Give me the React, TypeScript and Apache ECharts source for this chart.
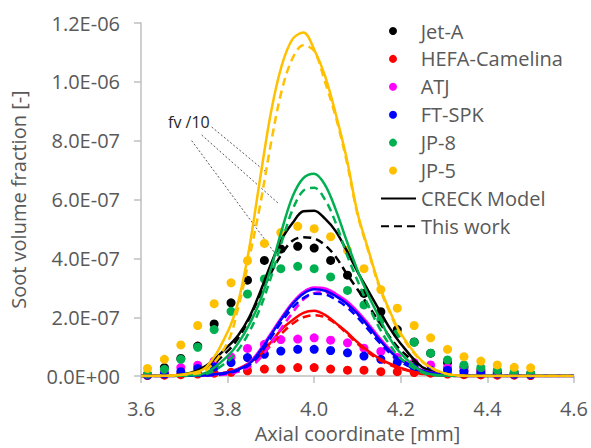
import React, { useEffect, useRef } from "react";
import * as echarts from "echarts";

// Measured points: axial coordinate [mm]
const xPts = [3.615, 3.654, 3.692, 3.731, 3.769, 3.808, 3.846, 3.885, 3.923, 3.962, 4.0, 4.038, 4.077, 4.115, 4.154, 4.192, 4.231, 4.269, 4.308, 4.346, 4.385, 4.423, 4.462, 4.5];
// Measured soot volume fraction (x 1e-7)
const jetA = [0.05, 0.29, 0.6, 1.02, 1.77, 2.49, 3.26, 3.93, 4.32, 4.41, 4.35, 3.93, 3.43, 2.81, 2.19, 1.58, 1.16, 0.78, 0.46, 0.3, 0.2, 0.15, 0.1, 0.08];
const hefa = [0.02, 0.03, 0.05, 0.07, 0.1, 0.13, 0.18, 0.24, 0.24, 0.29, 0.29, 0.24, 0.2, 0.2, 0.15, 0.15, 0.12, 0.1, 0.07, 0.05, 0.04, 0.03, 0.03, 0.02];
const atj = [0.05, 0.12, 0.29, 0.37, 0.51, 0.65, 0.94, 1.08, 1.24, 1.26, 1.3, 1.22, 1.13, 0.95, 0.84, 0.63, 0.46, 0.38, 0.29, 0.2, 0.15, 0.1, 0.08, 0.06];
const ftspk = [0.03, 0.07, 0.15, 0.26, 0.31, 0.46, 0.63, 0.74, 0.85, 0.91, 0.91, 0.87, 0.79, 0.68, 0.57, 0.46, 0.29, 0.2, 0.2, 0.15, 0.1, 0.08, 0.06, 0.05];
const jp8 = [0.07, 0.23, 0.57, 0.98, 1.58, 2.2, 2.79, 3.3, 3.65, 3.73, 3.65, 3.37, 2.91, 2.42, 1.92, 1.44, 1.15, 0.78, 0.55, 0.38, 0.29, 0.2, 0.14, 0.1];
const jp5 = [0.26, 0.57, 1.06, 1.72, 2.46, 3.17, 3.92, 4.51, 4.88, 5.09, 5.01, 4.74, 4.28, 3.65, 2.94, 2.31, 1.72, 1.3, 0.91, 0.66, 0.51, 0.38, 0.3, 0.28];

// Model curves: axial coordinate [mm]
const xLine = [3.6, 3.65, 3.7, 3.75, 3.8, 3.825, 3.85, 3.875, 3.9, 3.925, 3.95, 3.975, 4.0, 4.025, 4.05, 4.075, 4.1, 4.125, 4.15, 4.175, 4.2, 4.25, 4.3, 4.35, 4.4, 4.5, 4.6];
// CRECK model (solid) and this work (dashed), x 1e-7
const creckJetA = [0, 0.01, 0.06, 0.35, 1.0, 1.4, 2.0, 2.85, 3.8, 4.65, 5.2, 5.6, 5.62, 5.35, 4.92, 4.27, 3.55, 2.9, 2.25, 1.62, 1.1, 0.3, 0.05, 0, 0, 0, 0];
const thisJetA = [0, 0.01, 0.06, 0.25, 0.85, 1.3, 1.95, 2.75, 3.5, 4.15, 4.6, 4.72, 4.68, 4.45, 4.05, 3.48, 2.95, 2.4, 1.85, 1.32, 0.88, 0.3, 0.05, 0, 0, 0, 0];
const creckHefa = [0, 0, 0.01, 0.03, 0.13, 0.25, 0.45, 0.72, 1.15, 1.6, 1.9, 2.15, 2.22, 2.08, 1.8, 1.5, 1.15, 0.85, 0.6, 0.42, 0.28, 0.08, 0.02, 0, 0, 0, 0];
const thisHefa = [0, 0, 0, 0.02, 0.1, 0.2, 0.38, 0.65, 1.05, 1.45, 1.78, 2.0, 2.07, 2.0, 1.78, 1.45, 1.1, 0.8, 0.55, 0.38, 0.25, 0.07, 0.02, 0, 0, 0, 0];
const creckAtj = [0, 0, 0.01, 0.03, 0.12, 0.24, 0.45, 0.9, 1.45, 2.0, 2.5, 2.86, 3.01, 2.98, 2.8, 2.55, 2.2, 1.78, 1.32, 0.9, 0.58, 0.2, 0.05, 0, 0, 0, 0];
const thisAtj = [0, 0, 0, 0.02, 0.06, 0.15, 0.3, 0.6, 1.1, 1.65, 2.15, 2.6, 2.82, 2.85, 2.72, 2.45, 2.1, 1.7, 1.25, 0.85, 0.55, 0.18, 0.04, 0, 0, 0, 0];
const creckFt = [0, 0, 0.01, 0.03, 0.12, 0.23, 0.42, 0.85, 1.4, 1.95, 2.45, 2.8, 2.95, 2.9, 2.72, 2.47, 2.12, 1.7, 1.25, 0.85, 0.55, 0.18, 0.04, 0, 0, 0, 0];
const thisFt = [0, 0, 0.01, 0.02, 0.1, 0.2, 0.38, 0.75, 1.3, 1.85, 2.32, 2.65, 2.8, 2.78, 2.6, 2.35, 2.0, 1.58, 1.15, 0.78, 0.48, 0.15, 0.03, 0, 0, 0, 0];
const creckJp8 = [0, 0, 0.02, 0.12, 0.68, 1.13, 1.75, 2.55, 3.65, 4.95, 6.1, 6.73, 6.88, 6.5, 5.65, 4.6, 3.6, 2.75, 2.0, 1.27, 0.77, 0.15, 0.02, 0, 0, 0, 0];
const thisJp8 = [0, 0, 0.01, 0.07, 0.5, 0.9, 1.5, 2.3, 3.35, 4.55, 5.65, 6.3, 6.4, 6.0, 5.2, 4.15, 3.25, 2.4, 1.65, 1.05, 0.6, 0.12, 0.01, 0, 0, 0, 0];
const creckJp5 = [0, 0.01, 0.06, 0.3, 1.5, 2.55, 4.35, 6.7, 8.95, 10.55, 11.45, 11.68, 11.1, 10.2, 8.9, 7.4, 5.55, 4.3, 3.1, 2.2, 1.45, 0.5, 0.1, 0.01, 0, 0, 0];
const thisJp5 = [0, 0.01, 0.05, 0.2, 1.15, 2.35, 4.0, 5.8, 7.9, 9.7, 10.8, 11.24, 11.05, 10.0, 8.8, 7.3, 5.5, 4.25, 3.05, 2.15, 1.4, 0.48, 0.1, 0.01, 0, 0, 0];

const SCALE = 1e-7;
const FONT = "'Open Sans', sans-serif";
const GRAY = "#595959";
const FS = 20;

const pts = (vals: number[]) => xPts.map((x, i) => [x, vals[i] * SCALE]);
const curve = (vals: number[]) => xLine.map((x, i) => [x, vals[i] * SCALE]);

const fmtExp = (v: number) => {
  if (v === 0) return "0.0E+00";
  const e = Math.floor(Math.log10(Math.abs(v)) + 1e-9);
  const m = v / Math.pow(10, e);
  return m.toFixed(1) + "E" + (e < 0 ? "-" : "+") + String(Math.abs(e)).padStart(2, "0");
};

export default function App() {
  const ref = useRef<HTMLDivElement>(null);
  useEffect(() => {
    document.body.style.margin = "0";
    if (!ref.current) return;
    const chart = echarts.init(ref.current, undefined, { renderer: "svg" });

    const scatter = (name: string, color: string, vals: number[]) => ({
      name,
      type: "scatter",
      data: pts(vals),
      symbol: "circle",
      symbolSize: 9,
      itemStyle: { color, opacity: 1 },
      z: 2,
    });
    const line = (name: string, color: string, vals: number[], dashed: boolean) => ({
      name,
      type: "line",
      data: curve(vals),
      smooth: 0.35,
      symbol: "none",
      showSymbol: false,
      lineStyle: { color, width: 2.5, type: dashed ? [8, 5] : "solid" },
      itemStyle: { color },
      z: 3,
    });

    chart.setOption({
      animation: false,
      textStyle: { fontFamily: FONT },
      grid: { left: 141, right: 17, top: 23, bottom: 68, containLabel: false },
      xAxis: {
        type: "value",
        min: 3.6,
        max: 4.6,
        interval: 0.2,
        name: "Axial coordinate [mm]",
        nameLocation: "middle",
        nameGap: 46,
        nameTextStyle: { color: GRAY, fontSize: FS, fontFamily: FONT },
        axisLine: { show: true, lineStyle: { color: "#BFBFBF", width: 1.5 } },
        axisTick: { show: true, inside: false, length: 7, lineStyle: { color: "#BFBFBF", width: 1.5 } },
        axisLabel: { color: GRAY, fontSize: FS, margin: 22, fontFamily: FONT, formatter: (v: number) => v.toFixed(1) },
        splitLine: { show: false },
      },
      yAxis: {
        type: "value",
        min: 0,
        max: 1.2e-6,
        interval: 2e-7,
        name: "Soot volume fraction [-]",
        nameLocation: "middle",
        nameGap: 113,
        nameTextStyle: { color: GRAY, fontSize: FS, fontFamily: FONT },
        axisLine: { show: true, lineStyle: { color: "#BFBFBF", width: 1.5 } },
        axisTick: { show: true, inside: false, length: 7, lineStyle: { color: "#BFBFBF", width: 1.5 } },
        axisLabel: { color: GRAY, fontSize: FS, margin: 21, fontFamily: FONT, formatter: fmtExp },
        splitLine: { show: false },
      },
      legend: [
        {
          data: ["Jet-A", "HEFA-Camelina", "ATJ", "FT-SPK", "JP-8", "JP-5"],
          orient: "vertical",
          left: 389,
          top: 21,
          padding: 0,
          itemWidth: 8,
          itemHeight: 8,
          itemGap: 7.9,
          icon: "circle",
          selectedMode: false,
          textStyle: { color: GRAY, fontSize: FS, lineHeight: 20, fontFamily: FONT, padding: [0, 0, 0, 18.7] },
        },
        {
          data: ["CRECK Model", "This work"],
          orient: "vertical",
          left: 380,
          top: 188.4,
          padding: 0,
          itemWidth: 35,
          itemHeight: 10,
          itemGap: 7.9,
          itemStyle: { opacity: 0 },
          selectedMode: false,
          textStyle: { color: GRAY, fontSize: FS, lineHeight: 20, fontFamily: FONT },
        },
      ],
      graphic: [
        { type: "text", left: 168, top: 114, style: { text: "fv /10", fill: "#262626", font: "16px " + FONT } },
        { type: "line", shape: { x1: 211.7, y1: 127, x2: 266, y2: 172 }, style: { stroke: "#595959", lineWidth: 1, lineDash: [2, 2] } },
        { type: "line", shape: { x1: 201.7, y1: 135, x2: 278.3, y2: 203.3 }, style: { stroke: "#595959", lineWidth: 1, lineDash: [2, 2] } },
        { type: "line", shape: { x1: 191.7, y1: 140.7, x2: 275, y2: 253.3 }, style: { stroke: "#595959", lineWidth: 1, lineDash: [2, 2] } },
      ],
      series: [
        scatter("Jet-A", "#000000", jetA),
        scatter("HEFA-Camelina", "#FF0000", hefa),
        scatter("ATJ", "#FF00FF", atj),
        scatter("FT-SPK", "#0000FF", ftspk),
        scatter("JP-8", "#00B050", jp8),
        scatter("JP-5", "#FFC000", jp5),
        line("CRECK Model", "#000000", creckJetA, false),
        line("This work", "#000000", thisJetA, true),
        line("CRECK HEFA-Camelina", "#FF0000", creckHefa, false),
        line("This work HEFA-Camelina", "#FF0000", thisHefa, true),
        line("CRECK ATJ", "#FF00FF", creckAtj, false),
        line("This work ATJ", "#FF00FF", thisAtj, true),
        line("CRECK FT-SPK", "#0000FF", creckFt, false),
        line("This work FT-SPK", "#0000FF", thisFt, true),
        line("CRECK JP-8", "#00B050", creckJp8, false),
        line("This work JP-8", "#00B050", thisJp8, true),
        line("CRECK JP-5", "#FFC000", creckJp5, false),
        line("This work JP-5", "#FFC000", thisJp5, true),
      ],
    });
    return () => chart.dispose();
  }, []);
  return <div ref={ref} style={{ width: 591, height: 448 }} />;
}
